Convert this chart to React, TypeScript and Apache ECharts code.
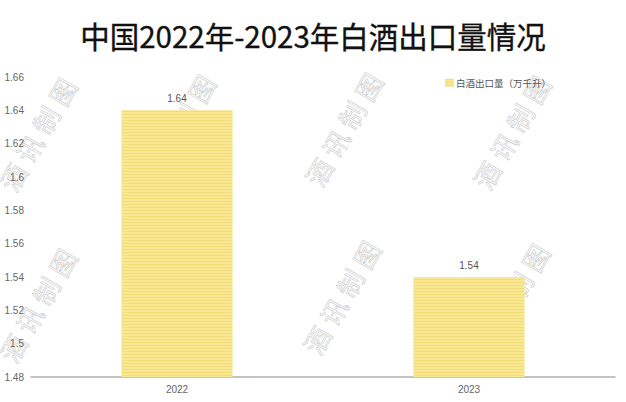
import React, { useEffect, useRef } from "react";
import * as echarts from "echarts";

const titleText = "中国2022年-2023年白酒出口量情况";
const seriesName = "白酒出口量（万千升）";
const categories = ["2022", "2023"];
const values = [1.64, 1.54];
const yMin = 1.48;
const yMax = 1.66;
const yStep = 0.02;
const watermarkChars = ["酒", "讯", "制", "图"];
const watermarkCenters: [number, number][] = [
  [37, 134], [176, 131], [343, 129], [511, 132],
  [37, 305], [176, 303], [341, 297], [510, 300],
];

export default function App() {
  const ref = useRef<HTMLDivElement>(null);
  useEffect(() => {
    document.body.style.margin = "0";
    const chart = echarts.init(ref.current!, undefined, { renderer: "svg" });
    const font = "'Noto Sans CJK SC', 'Noto Sans', sans-serif";
    const step = 33;
    chart.setOption({
      animation: false,
      backgroundColor: "#ffffff",
      title: {
        text: titleText,
        left: "center",
        top: 15,
        textStyle: {
          fontSize: 29.5,
          fontWeight: "normal",
          color: "#111",
          fontFamily: font,
          textBorderColor: "#111",
          textBorderWidth: 0.35,
        },
      },
      legend: {
        data: [seriesName],
        left: 440,
        top: 73,
        icon: "rect",
        itemWidth: 9,
        itemHeight: 8,
        textStyle: { fontSize: 9.5, color: "#555", fontFamily: font, padding: [0, 0, 0, -3] },
      },
      grid: { left: 31, right: 11, top: 77, bottom: 25, containLabel: false },
      xAxis: {
        type: "category",
        data: categories,
        axisLine: { lineStyle: { color: "#b0b0b0", width: 1.5 } },
        axisTick: { show: false },
        axisLabel: { color: "#666", fontSize: 10, margin: 7, fontFamily: "Liberation Sans, Arial, sans-serif" },
      },
      yAxis: {
        type: "value",
        min: yMin,
        max: yMax,
        interval: yStep,
        splitLine: { show: false },
        axisLine: { show: false },
        axisTick: { show: false },
        axisLabel: {
          color: "#666",
          fontSize: 10,
          margin: 7,
          fontFamily: "Liberation Sans, Arial, sans-serif",
          formatter: (v: number) => String(parseFloat(v.toFixed(2))),
        },
      },
      series: [
        {
          name: seriesName,
          type: "bar",
          data: values,
          barWidth: 111,
          itemStyle: {
            color: "#FAE791",
            decal: {
              symbol: "rect",
              symbolSize: 1,
              dashArrayX: [1, 0],
              dashArrayY: [1, 2],
              color: "rgba(225, 195, 70, 0.3)",
            },
          },
          label: {
            show: true,
            position: "top",
            distance: 7,
            color: "#555",
            fontSize: 10,
            fontFamily: "Liberation Sans, Arial, sans-serif",
          },
        },
      ],
      graphic: watermarkCenters.map(([x, y]) => ({
        type: "group",
        x,
        y,
        rotation: Math.PI / 3,
        z: 100,
        silent: true,
        children: watermarkChars.map((ch, i) => ({
          type: "text",
          x: (i - 1.5) * step,
          y: 0,
          style: {
            text: ch,
            fontSize: 26,
            fontFamily: font,
            fill: "rgba(0,0,0,0)",
            stroke: "rgba(150,150,150,0.45)",
            lineWidth: 0.8,
            align: "center",
            verticalAlign: "middle",
          },
        })),
      })),
    });
    return () => chart.dispose();
  }, []);
  return <div ref={ref} style={{ width: 626, height: 402 }} />;
}
